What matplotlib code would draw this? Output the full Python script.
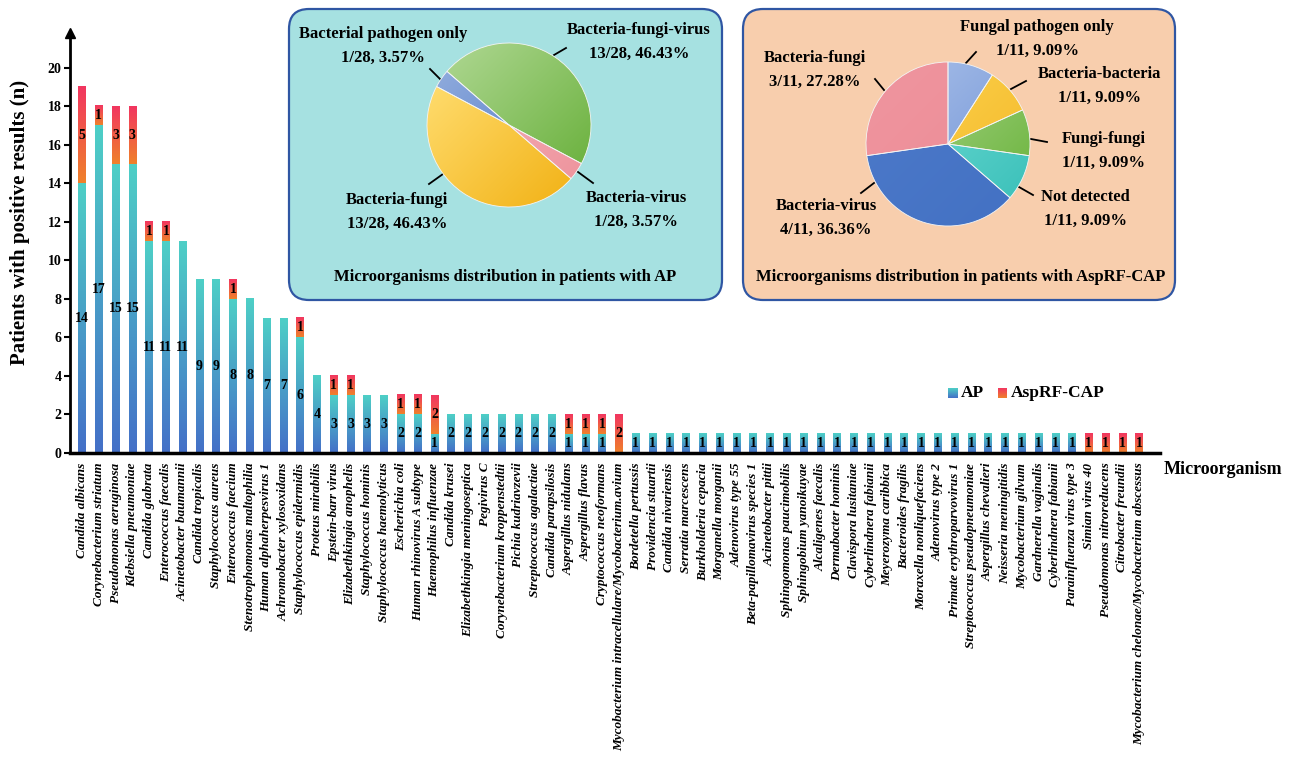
import numpy as np
import matplotlib
matplotlib.use('Agg')
import matplotlib.pyplot as plt
from matplotlib.colors import LinearSegmentedColormap
from matplotlib.patches import FancyBboxPatch

plt.rcParams['font.family'] = 'Liberation Serif'
plt.rcParams['font.weight'] = 'bold'

# bar data: patients with positive result per organism
names = [
    'Candida albicans', 'Corynebacterium striatum', 'Pseudomonas aeruginosa',
    'Klebsiella pneumoniae', 'Candida glabrata', 'Enterococcus faecalis',
    'Acinetobacter baumannii', 'Candida tropicalis', 'Staphylococcus aureus',
    'Enterococcus faecium', 'Stenotrophomonas maltophilia', 'Human alphaherpesvirus 1',
    'Achromobacter xylosoxidans', 'Staphylococcus epidermidis', 'Proteus mirabilis',
    'Epstein-barr virus', 'Elizabethkingia anophelis', 'Staphylococcus hominis',
    'Staphylococcus haemolyticus', 'Escherichia coli', 'Human rhinovirus A subtype',
    'Haemophilus influenzae', 'Candida krusei', 'Elizabethkingia meningoseptica',
    'Pegivirus C', 'Corynebacterium kroppenstedtii', 'Pichia kudriavzevii',
    'Streptococcus agalactiae', 'Candida parapsilosis', 'Aspergillus nidulans',
    'Aspergillus flavus', 'Cryptococcus neoformans',
    'Mycobacterium intracellulare/Mycobacterium.avium', 'Bordetella pertussis',
    'Providencia stuartii', 'Candida nivariensis', 'Serratia marcescens',
    'Burkholderia cepacia', 'Morganella morganii', 'Adenovirus type 55',
    'Beta-papillomavirus species 1', 'Acinetobacter pittii', 'Sphingomonas paucimobilis',
    'Sphingobium yanoikuyae', 'Alcaligenes faecalis', 'Dermabacter hominis',
    'Clavispora lusitaniae', 'Cyberlindnera fabianii', 'Meyerozyma caribbica',
    'Bacteroides fragilis', 'Moraxella nonliquefaciens', 'Adenovirus type 2',
    'Primate erythroparvovirus 1', 'Streptococcus pseudopneumoniae',
    'Aspergillus chevalieri', 'Neisseria meningitidis', 'Mycobacterium gilvum',
    'Gardnerella vaginalis', 'Cyberlindnera fabianii', 'Parainfluenza virus type 3',
    'Simian virus 40', 'Pseudomonas nitroreducens', 'Citrobacter freundii',
    'Mycobacterium chelonae/Mycobacterium abscessus',
]
ap = [14, 17, 15, 15, 11, 11, 11, 9, 9, 8, 8, 7, 7, 6, 4, 3, 3, 3, 3, 2, 2, 1,
      2, 2, 2, 2, 2, 2, 2, 1, 1, 1, 0, 1, 1, 1, 1, 1, 1, 1, 1, 1, 1, 1, 1, 1,
      1, 1, 1, 1, 1, 1, 1, 1, 1, 1, 1, 1, 1, 1, 0, 0, 0, 0]
cap = [5, 1, 3, 3, 1, 1, 0, 0, 0, 1, 0, 0, 0, 1, 0, 1, 1, 0, 0, 1, 1, 2,
       0, 0, 0, 0, 0, 0, 0, 1, 1, 1, 2, 0, 0, 0, 0, 0, 0, 0, 0, 0, 0, 0, 0, 0,
       0, 0, 0, 0, 0, 0, 0, 0, 0, 0, 0, 0, 0, 0, 1, 1, 1, 1]

# pie data
ap_pie_labels = ['Bacteria-fungi-virus', 'Bacterial pathogen only', 'Bacteria-fungi', 'Bacteria-virus']
ap_pie_vals = [13, 1, 13, 1]
ap_pie_text = ['13/28, 46.43%', '1/28, 3.57%', '13/28, 46.43%', '1/28, 3.57%']

cap_pie_labels = ['Fungal pathogen only', 'Bacteria-bacteria', 'Fungi-fungi',
                  'Not detected', 'Bacteria-virus', 'Bacteria-fungi']
cap_pie_vals = [1, 1, 1, 1, 4, 3]
cap_pie_text = ['1/11, 9.09%', '1/11, 9.09%', '1/11, 9.09%', '1/11, 9.09%',
                '4/11, 36.36%', '3/11, 27.28%']

W, H = 1302, 762
fig = plt.figure(figsize=(W / 100, H / 100), dpi=100)


def px(x0, y0, x1, y1):
    return [x0 / W, 1 - y1 / H, (x1 - x0) / W, (y1 - y0) / H]


# ---- stacked bars ----
ax = fig.add_axes(px(70, 33, 1160, 453))
x = np.arange(len(names))
ap_bars = ax.bar(x, ap, width=0.45, facecolor='none', linewidth=0, zorder=3)
cap_bars = ax.bar(x, cap, bottom=ap, width=0.45, facecolor='none', linewidth=0, zorder=3)

ap_cmap = LinearSegmentedColormap.from_list('ap', ['#4470c8', '#4ecfc6'])
cap_cmap = LinearSegmentedColormap.from_list('cap', ['#ef812b', '#f23660'])
grad = np.linspace(0, 1, 100).reshape(-1, 1)
for bars, cmap in ((ap_bars, ap_cmap), (cap_bars, cap_cmap)):
    for b in bars:
        if b.get_height() == 0:
            continue
        x0, y0 = b.get_xy()
        ax.imshow(grad, extent=[x0, x0 + b.get_width(), y0, y0 + b.get_height()],
                  origin='lower', cmap=cmap, aspect='auto', zorder=2,
                  interpolation='bilinear')

for i in range(len(names)):
    if ap[i] > 0:
        ax.text(i, ap[i] / 2, str(ap[i]), ha='center', va='center', fontsize=10, zorder=4)
    if cap[i] > 0:
        ax.text(i, ap[i] + cap[i] / 2, str(cap[i]), ha='center', va='center', fontsize=10, zorder=4)

ax.set_xlim(-0.715, 64.24)
ax.set_ylim(0, 21.8)
ax.set_yticks(range(0, 21, 2))
ax.set_xticks(x)
ax.set_xticklabels(names, rotation=90, fontstyle='italic', fontsize=9.5)
ax.tick_params(axis='x', length=0, pad=7)
ax.tick_params(axis='y', length=4, width=1.5, labelsize=10, pad=2)
for s in ('top', 'right'):
    ax.spines[s].set_visible(False)
ax.spines['left'].set_linewidth(2)
ax.spines['bottom'].set_linewidth(2.5)
ax.plot(0, 1, marker='^', color='black', markersize=7, transform=ax.transAxes, clip_on=False)

fig.text(20 / W, 1 - 222 / H, 'Patients with positive results (n)', rotation=90,
         fontsize=15, ha='center', va='center')
fig.text(1223 / W, 1 - 470 / H, 'Microorganism', fontsize=13, ha='center', va='center')

# legend
for (x0, x1), cmap, lab in (((948, 957), ap_cmap, 'AP'), ((998, 1007), cap_cmap, 'AspRF-CAP')):
    lax = fig.add_axes(px(x0, 388, x1, 398))
    lax.imshow(grad, origin='lower', cmap=cmap, aspect='auto', extent=[0, 1, 0, 1])
    lax.axis('off')
    fig.text((x1 + 4) / W, 1 - 393 / H, lab, fontsize=12.5, ha='left', va='center')

# ---- pie panels ----
ov = fig.add_axes([0, 0, 1, 1])
ov.set_xlim(0, W)
ov.set_ylim(H, 0)
ov.axis('off')
ov.add_patch(FancyBboxPatch((289, 9), 433, 291, boxstyle='round,pad=0,rounding_size=20',
                            facecolor='#a6e1e1', edgecolor='#2f56a3', linewidth=1.6))
ov.add_patch(FancyBboxPatch((743, 9), 432, 291, boxstyle='round,pad=0,rounding_size=20',
                            facecolor='#f8cead', edgecolor='#2f56a3', linewidth=1.6))


def label(cx, cy, top, bottom):
    ov.text(cx, cy - 12, top, fontsize=12, ha='center', va='center')
    ov.text(cx, cy + 12, bottom, fontsize=12, ha='center', va='center')


def leader(x0, y0, x1, y1):
    ov.plot([x0, x1], [y0, y1], color='black', linewidth=1.3)


# AP pie labels
ap_pos = [(639, 42), (383, 46), (397, 212), (636, 210)]
for (cx, cy), a, b in zip(ap_pos, ap_pie_labels, ap_pie_text):
    label(cx, cy, a, b)
leader(554, 55, 566, 48)
leader(430, 69, 442, 81)
leader(429, 184, 443, 174)
leader(578, 172, 593, 183)
ov.text(505, 277, 'Microorganisms distribution in patients with AP', fontsize=12, ha='center', va='center')

cap_pos = [(1037, 39), (1099, 86), (1104, 151), (1085, 209), (826, 218), (815, 70)]
for (cx, cy), a, b in zip(cap_pos, cap_pie_labels, cap_pie_text):
    label(cx, cy, a, b)
leader(966, 63, 976, 52)
leader(1011, 89, 1026, 81)
leader(1031, 139, 1047, 142)
leader(1019, 187, 1033, 195)
leader(874, 183, 861, 193)
leader(884, 90, 875, 79)
ov.text(961, 277, 'Microorganisms distribution in patients with AspRF-CAP', fontsize=12, ha='center', va='center')


def gradient_pie(cx, cy, r, vals, light, dark, start, ccw):
    pax = fig.add_axes(px(cx - r, cy - r, cx + r, cy + r))
    wedges, _ = pax.pie(vals, startangle=start, counterclock=ccw, colors=dark,
                        wedgeprops=dict(linewidth=0.6, edgecolor='#f4f4f4'))
    gx, gy = np.meshgrid(np.linspace(-1, 1, 200), np.linspace(-1, 1, 200))
    g = gx - gy
    for w, c0, c1 in zip(wedges, light, dark):
        cm = LinearSegmentedColormap.from_list('w', [c0, c1])
        im = pax.imshow(g, extent=[-1, 1, -1, 1], origin='lower', cmap=cm,
                        vmin=-1.5, vmax=1.5, zorder=1)
        im.set_clip_path(w)
        w.set_facecolor('none')
        w.set_zorder(2)
    pax.set_xlim(-1, 1)
    pax.set_ylim(-1, 1)
    pax.axis('off')


gradient_pie(509, 125, 82, ap_pie_vals,
             ['#a9d48b', '#8eaadc', '#ffdc6e', '#f6b3bb'],
             ['#6cb23f', '#4f78c8', '#f3b51c', '#ee959e'], -28, True)
gradient_pie(948, 144, 82, cap_pie_vals,
             ['#a5bde8', '#fcd24e', '#a9d48b', '#72dcd6', '#4c79c9', '#ef949e'],
             ['#7193d6', '#f4b92a', '#6db53f', '#3ec2bb', '#4472c4', '#ec8c96'], 90, False)

fig.savefig('out.png', dpi=100)
